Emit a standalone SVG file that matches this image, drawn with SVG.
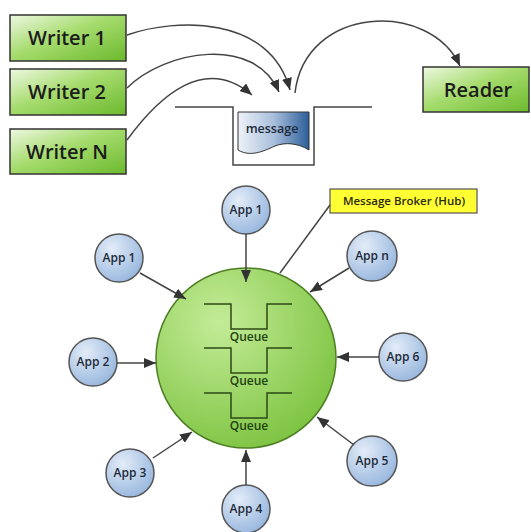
<svg xmlns="http://www.w3.org/2000/svg" width="531" height="532" viewBox="0 0 531 532">
<defs>
<linearGradient id="gBox" x1="0" y1="0" x2="1" y2="1">
<stop offset="0" stop-color="#eef8e2"/>
<stop offset="0.45" stop-color="#a6dc6e"/>
<stop offset="1" stop-color="#6cb92d"/>
</linearGradient>
<linearGradient id="gDoc" x1="0" y1="0" x2="1" y2="0">
<stop offset="0" stop-color="#eef2f8"/>
<stop offset="0.5" stop-color="#a9bfdc"/>
<stop offset="1" stop-color="#2d5e9a"/>
</linearGradient>
<radialGradient id="gHub" cx="0.35" cy="0.3" r="0.8">
<stop offset="0" stop-color="#c4ec98"/>
<stop offset="1" stop-color="#79c13c"/>
</radialGradient>
<radialGradient id="gApp" cx="0.35" cy="0.3" r="0.8">
<stop offset="0" stop-color="#e3ecf8"/>
<stop offset="1" stop-color="#92b3dc"/>
</radialGradient>
<marker id="ah" viewBox="0 0 12 10" refX="12" refY="5" markerWidth="12" markerHeight="10" markerUnits="userSpaceOnUse" orient="auto">
<path d="M0,0 L12,5 L0,10 Z" fill="#333"/>
</marker>
</defs>
<style>
.box{fill:url(#gBox);stroke:#333;stroke-width:1.5}
.bt{font-family:"Open Sans","Liberation Sans",sans-serif;font-size:20px;font-weight:600;fill:#1c1c1c;text-anchor:middle}
.conn{fill:none;stroke:#444;stroke-width:1.5}
.arr{marker-end:url(#ah)}
.app{fill:url(#gApp);stroke:#555;stroke-width:1.5}
.at{font-family:"Open Sans","Liberation Sans",sans-serif;font-size:12px;font-weight:600;fill:#1e2b3a;text-anchor:middle}
.q{fill:none;stroke:#2c4a14;stroke-width:1.5}
.qt{font-family:"Open Sans","Liberation Sans",sans-serif;font-size:12px;font-weight:600;fill:#1f4210;text-anchor:middle}
</style>
<rect width="531" height="532" fill="#fff"/>

<g id="writer1"><rect class="box" x="10" y="15" width="116" height="46"/><text class="bt" x="67" y="45">Writer 1</text></g>
<g id="writer2"><rect class="box" x="10" y="69" width="116" height="46"/><text class="bt" x="67" y="99">Writer 2</text></g>
<g id="writerN"><rect class="box" x="10" y="129" width="116" height="45"/><text class="bt" x="67" y="159">Writer N</text></g>
<g id="reader"><rect class="box" x="423" y="67" width="106" height="45"/><text class="bt" x="478" y="97">Reader</text></g>

<g id="queue">
<path class="conn" d="M175,107 H233 V165 H314 V107 H372" stroke="#333"/>
<path d="M238,112 H309 V150 C298,143 285,142 275,146 C262,152 250,157 238,150 Z" fill="url(#gDoc)" stroke="#333" stroke-width="1"/>
<text x="272" y="133" font-family="Open Sans,Liberation Sans,sans-serif" font-size="12.5" font-weight="600" fill="#1e2b3a" text-anchor="middle">message</text>
</g>

<g id="hub">
<circle cx="246" cy="358" r="90" fill="url(#gHub)" stroke="#4e7f25" stroke-width="1.5"/>
<path class="q" d="M204,304 H231 V329 H267 V304 H292"/>
<text class="qt" x="249" y="341">Queue</text>
<path class="q" d="M204,348 H231 V373 H267 V348 H292"/>
<text class="qt" x="249" y="385">Queue</text>
<path class="q" d="M204,393 H231 V418 H267 V393 H292"/>
<text class="qt" x="249" y="430">Queue</text>
</g>

<g id="broker">
<rect x="330" y="189" width="147" height="24" fill="#ffff33" stroke="#555" stroke-width="1.2"/>
<text x="404" y="205" font-family="Open Sans,Liberation Sans,sans-serif" font-size="11.5" font-weight="600" fill="#2a2a10" text-anchor="middle">Message Broker (Hub)</text>
</g>

<g id="app1top"><circle class="app" cx="246" cy="210" r="24"/><text class="at" x="246" y="214">App 1</text></g>
<g id="app1left"><circle class="app" cx="119" cy="258" r="24"/><text class="at" x="119" y="262">App 1</text></g>
<g id="appn"><circle class="app" cx="372" cy="256" r="25"/><text class="at" x="372" y="260">App n</text></g>
<g id="app6"><circle class="app" cx="403" cy="357" r="24"/><text class="at" x="403" y="361">App 6</text></g>
<g id="app5"><circle class="app" cx="372" cy="461" r="25"/><text class="at" x="372" y="465">App 5</text></g>
<g id="app4"><circle class="app" cx="246" cy="509" r="24"/><text class="at" x="246" y="513">App 4</text></g>
<g id="app3"><circle class="app" cx="130" cy="473" r="24"/><text class="at" x="130" y="477">App 3</text></g>
<g id="app2"><circle class="app" cx="93" cy="362" r="24"/><text class="at" x="93" y="366">App 2</text></g>

<g id="connectors">
<path class="conn arr" d="M127,35 C175,18 270,15 290,90"/>
<path class="conn arr" d="M127,88 C165,50 255,35 279,92"/>
<path class="conn arr" d="M127,140 C160,95 205,55 252,95"/>
<path class="conn arr" d="M295,93 C305,5 430,0 460,66"/>
<path class="conn" d="M330,205 L280,273"/>
<path class="conn arr" d="M246,234 L246,282"/>
<path class="conn arr" d="M140,273 L186,299"/>
<path class="conn arr" d="M349,268 L310,292"/>
<path class="conn arr" d="M379,357 L337,357"/>
<path class="conn arr" d="M354,445 L317,417"/>
<path class="conn arr" d="M246,485 L246,450"/>
<path class="conn arr" d="M153,458 L192,432"/>
<path class="conn arr" d="M117,363 L156,363"/>
</g>
</svg>
